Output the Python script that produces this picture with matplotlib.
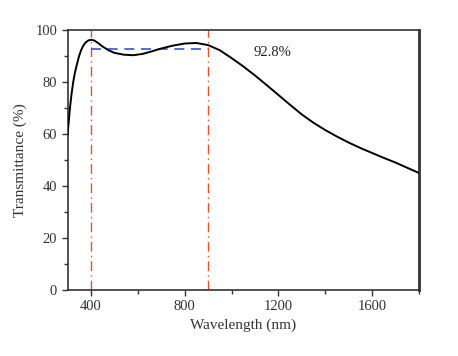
import matplotlib
matplotlib.use("Agg")
import matplotlib.pyplot as plt
from matplotlib.ticker import MultipleLocator

plt.rcParams['font.family'] = ['Liberation Serif', 'DejaVu Serif']

wavelength = [300, 305, 310, 317, 324, 331, 339, 349, 358, 367, 377, 387, 397, 405, 415,
              430, 450, 475, 500, 540, 580, 620, 660, 700, 750, 800, 850, 900, 950, 1000,
              1050, 1100, 1150, 1200, 1250, 1300, 1350, 1400, 1450, 1500, 1550, 1600,
              1650, 1700, 1750, 1800]
transmittance = [60, 65, 70, 75.5, 80, 83.5, 86.5, 90, 92.3, 94, 95.2, 95.9, 96.2, 96.2, 95.9,
                 95.0, 93.6, 92.2, 91.2, 90.5, 90.3, 90.8, 91.8, 92.9, 94.0, 94.8, 95.0, 94.2,
                 92.2, 89.2, 86.0, 82.5, 78.8, 75.0, 71.2, 67.5, 64.3, 61.5, 59.0, 56.7, 54.6,
                 52.7, 50.8, 49.0, 47.0, 45.0]
avg_range = [400, 900]
avg_value = 92.8
avg_label = "92.8%"

fig = plt.figure(figsize=(4.58, 3.56), dpi=100)
ax = fig.add_axes([67.6/458, 1-290/356, (419-67.6)/458, 260/356])

ax.plot(wavelength, transmittance, color='black', lw=1.4, zorder=3)
for xv in avg_range:
    ax.axvline(xv, color='#E8502A', lw=1.0, ls=(0, (7, 3, 1, 3)), zorder=2)
ax.plot(avg_range, [avg_value, avg_value], color='#3355CC', lw=1.2, ls=(0, (6, 4)), zorder=2)
ax.text(1175, 91.5, avg_label, fontsize=10.5, ha='center', va='center', color='#222222')

ax.set_xlim(300, 1800)
ax.set_ylim(0, 100)
ax.xaxis.set_major_locator(MultipleLocator(400))
ax.xaxis.set_minor_locator(MultipleLocator(200))
ax.yaxis.set_major_locator(MultipleLocator(20))
ax.yaxis.set_minor_locator(MultipleLocator(10))
ax.set_xticks([400, 800, 1200, 1600])
ax.tick_params(which='both', direction='out', top=False, right=False, labelsize=10.5, colors='#333333', labelcolor='#333333')
ax.tick_params(which='major', length=4, width=1.0)
ax.tick_params(which='minor', length=3, width=1.0)
for s in ax.spines.values():
    s.set_linewidth(1.2)
    s.set_color('#333333')
ax.spines['right'].set_linewidth(2.0)

ax.set_xlabel('Wavelength (nm)', fontsize=11, color='#333333', labelpad=4)
ax.set_ylabel('Transmittance (%)', fontsize=11, color='#333333', labelpad=6)

fig.savefig('out.png', dpi=100)
